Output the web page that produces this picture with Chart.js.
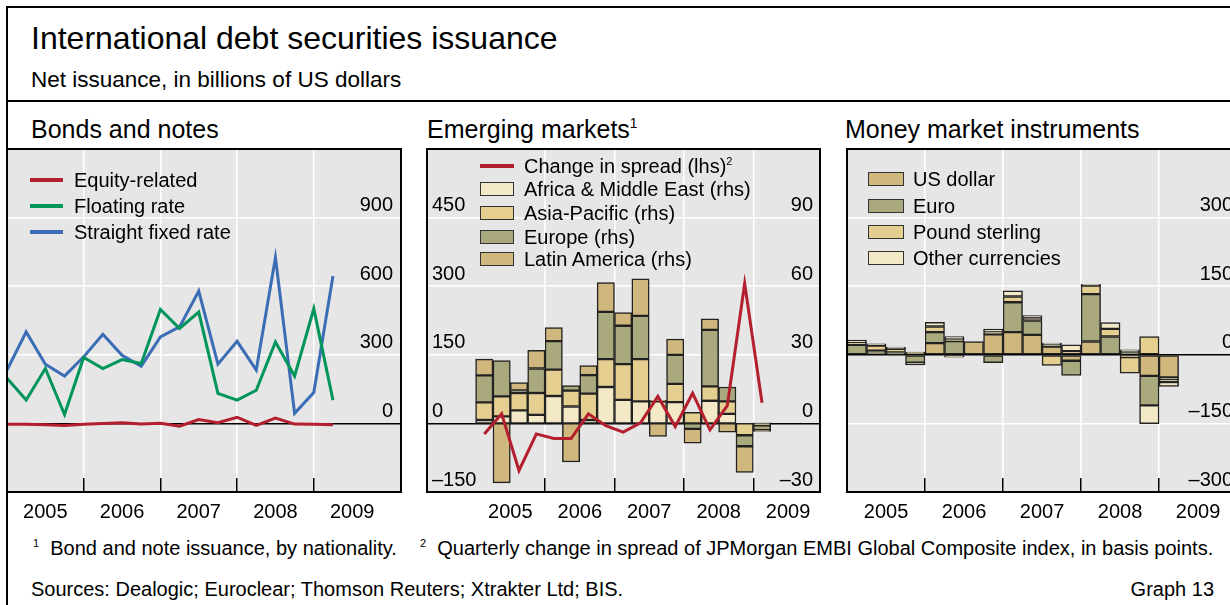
<!DOCTYPE html>
<html>
<head>
<meta charset="utf-8">
<script src="https://cdn.jsdelivr.net/npm/chart.js@4.4.1/dist/chart.umd.min.js"></script>
<style>
  html, body { margin: 0; padding: 0; overflow: hidden; }
  body { width: 1230px; height: 605px; position: relative; background: #fff; color: #000;
         font-family: "Liberation Sans", Arial, Helvetica, sans-serif; }
  .txt { position: absolute; white-space: nowrap; line-height: 1; }
  .rule { position: absolute; background: #000; }
  canvas { position: absolute; }
  .sup { font-size: 0.55em; position: relative; top: -0.75em; }
  .swl { position: absolute; height: 4px; }
  .swb { position: absolute; box-sizing: border-box; border: 1.5px solid #333; height: 14px; }
</style>
</head>
<body>

<!-- Data -->
<script>
// Bonds and notes: quarter-end observations
const bondQuarters = ['2004Q4','2005Q1','2005Q2','2005Q3','2005Q4','2006Q1','2006Q2','2006Q3','2006Q4',
                      '2007Q1','2007Q2','2007Q3','2007Q4','2008Q1','2008Q2','2008Q3','2008Q4','2009Q1'];
const equityRelated = [-4, -4, -6, -9, -4, 0, 3, -3, 1, -12, 17, 3, 27, -9, 23, -3, -4, -6];
const floatingRate  = [197, 102, 240, 39, 288, 240, 279, 262, 498, 415, 487, 131, 102, 145, 356, 207, 502, 102];
const straightFixed = [233, 400, 259, 207, 291, 390, 298, 250, 378, 422, 579, 259, 359, 233, 725, 44, 135, 645];

// Emerging markets (bars on rhs, spread change on lhs)
const emQuarters = ['2005Q1','2005Q2','2005Q3','2005Q4','2006Q1','2006Q2','2006Q3','2006Q4',
                    '2007Q1','2007Q2','2007Q3','2007Q4','2008Q1','2008Q2','2008Q3','2008Q4','2009Q1'];
const spreadChange = [-23, 21, -103, -23, -33, -33, 21, -5, -19, 1, 59, -7, 66, -14, 39, 306, 45];
const africaME     = [1.5, 3.1, 5.7, 3.7, 12, 7.4, 1.5, 15.9, 10.3, 9.6, 9.6, 9.3, 0, 9.9, 4.2, 0, 0.3];
const asiaPacific  = [7.7, 8.7, 7.6, 9.6, 11.5, 6.9, 11.5, 12.2, 15.6, 18.5, 0.5, 8, 4.8, 6.3, 5.4, -5.2, -0.8];
const europe       = [11.8, 15.7, 1.1, 10.7, 12.5, 2.2, 8.1, 20.7, 16.8, 18.9, 0, 12.7, -2.4, 24.7, 6.3, -4.8, -2.2];
const latinAmerica = [7.1, -26, 3.5, 8, 5.9, -16.9, 4.2, 12.8, 5.8, 16.2, -5.7, 6.9, -6.2, 4.8, -3.8, -11.4, -0.5];

// Money market instruments
const mmQuarters = emQuarters;
const usDollar       = [0, 3, 2, 4, 25.5, -5, 29, 45, 49.5, 43.7, 18, -13, 29, 0, -5, -46, -49.5];
const euro           = [22, 6, 3, -17, 24, 30, 0, -17, 65.5, 31.3, 4, -32, 103.5, 40, 6, -64.7, -4];
const poundSterling  = [5, 11, 8, 2, 12.4, 4, 0, 6, 12.4, 6.5, -23.3, 8, 18.8, 16.7, -35, 40, -6];
const otherCurrency  = [5, 4, 4, -5, 9, 6, 0, 5, 12.4, 4.4, 3.6, 14, 3, 14, 5, -39.7, -9.5];

// Axes
const yearLabels = ['2005', '2006', '2007', '2008', '2009'];
const gridYears = [2006, 2007, 2008, 2009];
const bondTicks = [0, 300, 600, 900];
const emLeftTicks = [-150, 0, 150, 300, 450];
const emRightTicks = [-30, 0, 30, 60, 90];
const mmTicks = [-300, -150, 0, 150, 300];
</script>

<div class="rule" style="left:6px;top:6px;width:2px;height:600px"></div>
<div class="rule" style="left:6px;top:6px;width:1230px;height:2px"></div>
<div class="rule" style="left:6px;top:100px;width:1230px;height:2px"></div>

<div class="txt" style="left:31px;top:22px;font-size:32px">International debt securities issuance</div>
<div class="txt" style="left:31px;top:69px;font-size:22.5px">Net issuance, in billions of US dollars</div>

<div class="txt" style="left:31px;top:117px;font-size:25px">Bonds and notes</div>
<div class="txt" style="left:427px;top:117px;font-size:25px">Emerging markets<span class="sup">1</span></div>
<div class="txt" style="left:845px;top:117px;font-size:25px">Money market instruments</div>

<canvas id="bonds" width="398" height="385" style="left:5px;top:147px"></canvas>
<canvas id="emerging" width="397" height="385" style="left:425px;top:147px"></canvas>
<canvas id="money" width="398" height="385" style="left:845px;top:147px"></canvas>

<!-- legends -->
<div class="swl" style="left:30px;top:178px;width:33px;background:#b41f2f"></div>
<div class="txt" style="left:74px;top:170px;font-size:20px">Equity-related</div>
<div class="swl" style="left:30px;top:204px;width:33px;background:#00955a"></div>
<div class="txt" style="left:74px;top:196px;font-size:20px">Floating rate</div>
<div class="swl" style="left:30px;top:230px;width:33px;background:#3b6db5"></div>
<div class="txt" style="left:74px;top:222px;font-size:20px">Straight fixed rate</div>

<div class="swl" style="left:480px;top:164px;width:34px;background:#b41f2f"></div>
<div class="txt" style="left:524px;top:156px;font-size:20px">Change in spread (lhs)<span class="sup">2</span></div>
<div class="swb" style="left:480px;top:182px;width:34px;background:#f3e9c7"></div>
<div class="txt" style="left:524px;top:179px;font-size:20px">Africa &amp; Middle East (rhs)</div>
<div class="swb" style="left:480px;top:206px;width:34px;background:#e5cf90"></div>
<div class="txt" style="left:524px;top:203px;font-size:20px">Asia-Pacific (rhs)</div>
<div class="swb" style="left:480px;top:230px;width:34px;background:#a9a97d"></div>
<div class="txt" style="left:524px;top:227px;font-size:20px">Europe (rhs)</div>
<div class="swb" style="left:480px;top:252px;width:34px;background:#cfb77d"></div>
<div class="txt" style="left:524px;top:249px;font-size:20px">Latin America (rhs)</div>

<div class="swb" style="left:868px;top:172px;width:36px;background:#cfb77d"></div>
<div class="txt" style="left:913px;top:169px;font-size:20px">US dollar</div>
<div class="swb" style="left:868px;top:199px;width:36px;background:#a9a97d"></div>
<div class="txt" style="left:913px;top:196px;font-size:20px">Euro</div>
<div class="swb" style="left:868px;top:225px;width:36px;background:#e5cf90"></div>
<div class="txt" style="left:913px;top:222px;font-size:20px">Pound sterling</div>
<div class="swb" style="left:868px;top:251px;width:36px;background:#f3e9c7"></div>
<div class="txt" style="left:913px;top:248px;font-size:20px">Other currencies</div>

<div class="txt" style="left:33px;top:538px;font-size:20px"><span class="sup">1</span>&nbsp; Bond and note issuance, by nationality.</div>
<div class="txt" style="left:420px;top:538px;font-size:20px"><span class="sup">2</span>&nbsp; Quarterly change in spread of JPMorgan EMBI Global Composite index, in basis points.</div>
<div class="txt" style="left:31px;top:579px;font-size:20px">Sources: Dealogic; Euroclear; Thomson Reuters; Xtrakter Ltd; BIS.</div>
<div class="txt" style="right:16px;top:579px;font-size:20px">Graph 13</div>

<script>
Chart.defaults.font.family = '"Liberation Sans", Arial, Helvetica, sans-serif';
Chart.defaults.color = '#000';

function quarterEnd(q) {
  const [y, n] = q.split('Q');
  return Number(y) + Number(n) / 4;
}

function quarterMid(q) {
  const [y, n] = q.split('Q');
  return Number(y) + (Number(n) - 0.5) / 4;
}

function points(quarters, values, pos) {
  return values.map((v, i) => ({ x: pos(quarters[i]), y: v }));
}

function fmt(v) {
  return v < 0 ? '\u2013' + Math.abs(v) : String(v);
}

// grey plot background and black frame
const plotFrame = {
  id: 'plotFrame',
  beforeDraw(chart) {
    const a = chart.chartArea, ctx = chart.ctx;
    ctx.save();
    ctx.fillStyle = '#e6e6e6';
    ctx.fillRect(a.left, a.top, a.right - a.left, a.bottom - a.top);
    ctx.restore();
  },
  afterDraw(chart) {
    const a = chart.chartArea, ctx = chart.ctx;
    ctx.save();
    ctx.strokeStyle = '#000';
    ctx.lineWidth = 2;
    ctx.strokeRect(a.left, a.top, a.right - a.left, a.bottom - a.top);
    ctx.restore();
  }
};

function yearGridAxis(min, max) {
  return {
    type: 'linear', position: 'bottom', min, max, offset: false, stacked: true, weight: 0,
    afterBuildTicks: s => { s.ticks = gridYears.map(v => ({ value: v })); },
    afterFit: s => { s.height = 0; s.paddingLeft = 0; s.paddingRight = 0; },
    ticks: { display: false },
    grid: { color: '#fff', lineWidth: 1.5, offset: false, drawTicks: true, tickLength: -14, tickColor: '#000', tickWidth: 1.5 },
    border: { display: false }
  };
}

function yearLabelAxis(min, max) {
  return {
    type: 'linear', position: 'bottom', min, max, offset: false, weight: 1,
    afterBuildTicks: s => { s.ticks = yearLabels.map(v => ({ value: Number(v) + 0.5 })); },
    afterFit: s => { s.height = 40; s.paddingLeft = 0; s.paddingRight = 0; },
    ticks: { autoSkip: false, maxRotation: 0, padding: 8, font: { size: 20 }, callback: (v, i) => yearLabels[i] },
    grid: { display: false, drawTicks: false },
    border: { display: false }
  };
}

function valueAxis(position, min, max, step, shown, pad, showGrid, stacked) {
  return {
    type: 'linear', position, min, max, stacked,
    afterFit: s => { s.width = 0; s.paddingTop = 0; s.paddingBottom = 0; },
    ticks: { stepSize: step, mirror: true, padding: pad, labelOffset: -12, font: { size: 20 },
             callback: v => shown.includes(v) ? fmt(v) : '' },
    grid: { display: showGrid, drawTicks: false, lineWidth: 1.5,
            color: c => (c.tick && c.tick.value === 0) ? '#000' : '#fff' },
    border: { display: false }
  };
}

const common = {
  responsive: false,
  animation: false,
  devicePixelRatio: 1,
  layout: { padding: { left: 2, right: 2, top: 2, bottom: 0 } },
  plugins: { legend: { display: false }, tooltip: { enabled: false } }
};

function lineSet(data, color) {
  return { type: 'line', data, borderColor: color, borderWidth: 3, pointRadius: 0, tension: 0, fill: false, xAxisID: 'x' };
}

function barSet(data, color, axis) {
  return { type: 'bar', data, backgroundColor: color, borderColor: '#222', borderWidth: 1.5, borderSkipped: false,
           barPercentage: 1, categoryPercentage: 1, xAxisID: 'x', yAxisID: axis };
}

new Chart(document.getElementById('bonds'), {
  type: 'line',
  data: {
    datasets: [
      lineSet(points(bondQuarters, equityRelated, quarterEnd), '#b41f2f'),
      lineSet(points(bondQuarters, floatingRate, quarterEnd), '#00955a'),
      lineSet(points(bondQuarters, straightFixed, quarterEnd), '#3b6db5')
    ]
  },
  options: {
    ...common,
    scales: {
      x: yearGridAxis(2005, 2010.137),
      xl: yearLabelAxis(2005, 2010.137),
      y: valueAxis('right', -300, 1200, 300, bondTicks, -8, true, false)
    }
  },
  plugins: [plotFrame]
});

new Chart(document.getElementById('emerging'), {
  type: 'bar',
  data: {
    datasets: [
      Object.assign(lineSet(points(emQuarters, spreadChange, quarterMid), '#b41f2f'), { yAxisID: 'y' }),
      barSet(points(emQuarters, africaME, quarterMid), '#f3e9c7', 'y2'),
      barSet(points(emQuarters, asiaPacific, quarterMid), '#e5cf90', 'y2'),
      barSet(points(emQuarters, europe, quarterMid), '#a9a97d', 'y2'),
      barSet(points(emQuarters, latinAmerica, quarterMid), '#cfb77d', 'y2')
    ]
  },
  options: {
    ...common,
    scales: {
      x: yearGridAxis(2004.30, 2009.96),
      xl: yearLabelAxis(2004.30, 2009.96),
      y: valueAxis('left', -150, 600, 150, emLeftTicks, 5, true, false),
      y2: valueAxis('right', -30, 120, 30, emRightTicks, -7, false, true)
    }
  },
  plugins: [plotFrame]
});

new Chart(document.getElementById('money'), {
  type: 'bar',
  data: {
    datasets: [
      barSet(points(mmQuarters, usDollar, quarterMid), '#cfb77d', 'y'),
      barSet(points(mmQuarters, euro, quarterMid), '#a9a97d', 'y'),
      barSet(points(mmQuarters, poundSterling, quarterMid), '#e5cf90', 'y'),
      barSet(points(mmQuarters, otherCurrency, quarterMid), '#f3e9c7', 'y')
    ]
  },
  options: {
    ...common,
    scales: {
      x: yearGridAxis(2005, 2010.05),
      xl: yearLabelAxis(2005, 2010.05),
      y: valueAxis('right', -300, 450, 150, mmTicks, -8, true, true)
    }
  },
  plugins: [plotFrame]
});
</script>
</body>
</html>
